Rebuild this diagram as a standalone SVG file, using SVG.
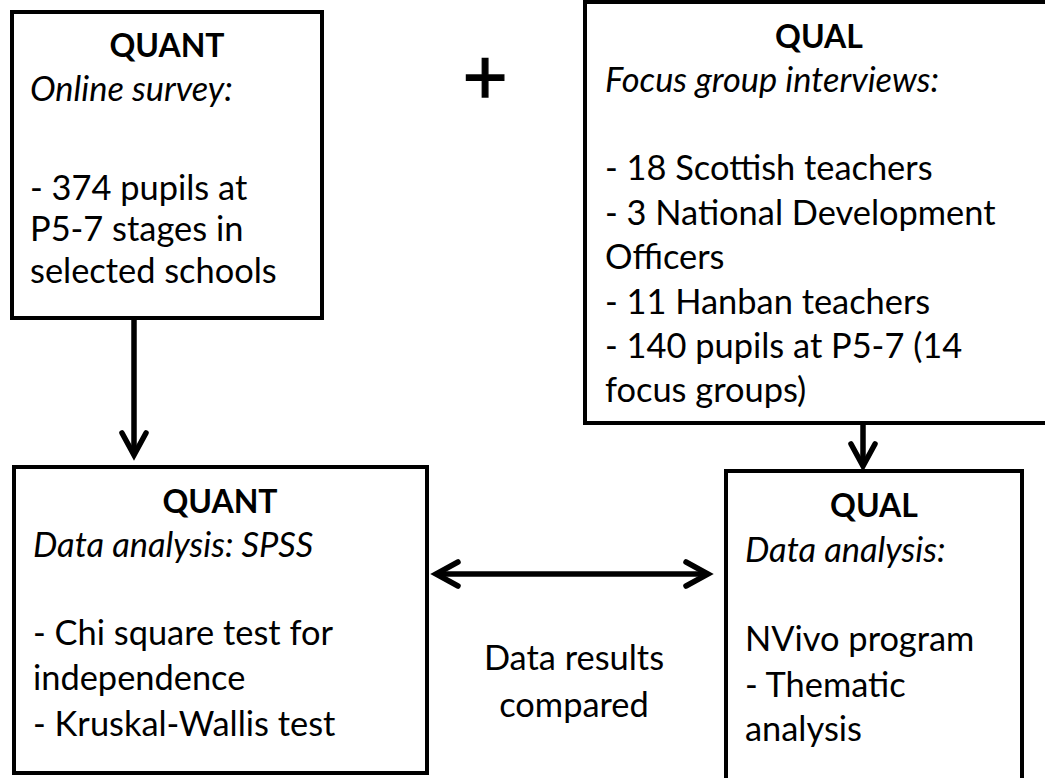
<svg xmlns="http://www.w3.org/2000/svg" width="1045" height="778" viewBox="0 0 1045 778">
<style>
.box{fill:#fff;stroke:#000;stroke-width:4}
.t{font-family:Lato,"Liberation Sans",sans-serif;font-size:34.4px;fill:#000}
.h{font-weight:bold;text-anchor:middle;font-size:32px}
.i{font-style:italic}
.c{text-anchor:middle}
.con{stroke:#000;stroke-width:5.5;fill:none}
</style>
<defs>
<marker id="ah" markerUnits="userSpaceOnUse" markerWidth="40" markerHeight="40" viewBox="-30 -20 40 40" refX="0" refY="0" orient="auto-start-reverse">
<path d="M-22,-12 L0,0 L-22,12" fill="none" stroke="#000" stroke-width="5.5" stroke-linecap="round" stroke-linejoin="miter"/>
</marker>
</defs>
<rect width="1045" height="778" fill="#fff"/>
<g id="quant-survey">
<rect class="box" x="12" y="12" width="310" height="306"/>
<text class="t h" x="167" y="57">QUANT</text>
<text class="t i" x="30" y="101">Online survey:</text>
<text class="t" x="30" y="200">- 374 pupils at</text>
<text class="t" x="30" y="241">P5-7 stages in</text>
<text class="t" x="30" y="283">selected schools</text>
</g>
<g id="plus">
<text class="t c" x="485" y="104" style="font-size:78px" stroke="#000" stroke-width="1.3">+</text>
</g>
<g id="qual-interviews">
<rect class="box" x="585" y="2" width="470" height="421"/>
<text class="t h" x="819" y="48">QUAL</text>
<text class="t i" x="605" y="92">Focus group interviews:</text>
<text class="t" x="605" y="180">- 18 Scottish teachers</text>
<text class="t" x="605" y="225">- 3 National Development</text>
<text class="t" x="605" y="269">Officers</text>
<text class="t" x="605" y="314">- 11 Hanban teachers</text>
<text class="t" x="605" y="358">- 140 pupils at P5-7 (14</text>
<text class="t" x="605" y="402">focus groups)</text>
</g>
<g id="quant-analysis">
<rect class="box" x="14" y="467" width="413" height="306"/>
<text class="t h" x="220" y="513">QUANT</text>
<text class="t i" x="33" y="557">Data analysis: SPSS</text>
<text class="t" x="33" y="645">- Chi square test for</text>
<text class="t" x="33" y="690">independence</text>
<text class="t" x="33" y="736">- Kruskal-Wallis test</text>
</g>
<g id="qual-analysis">
<rect class="box" x="726" y="471" width="296" height="330"/>
<text class="t h" x="874" y="517">QUAL</text>
<text class="t i" x="745" y="562">Data analysis:</text>
<text class="t" x="745" y="651">NVivo program</text>
<text class="t" x="745" y="697">- Thematic</text>
<text class="t" x="745" y="741">analysis</text>
</g>
<g id="compare-label">
<text class="t c" x="574" y="670">Data results</text>
<text class="t c" x="574" y="717">compared</text>
</g>
<g id="connectors">
<line class="con" x1="134" y1="318" x2="134" y2="455" marker-end="url(#ah)"/>
<line class="con" x1="863" y1="423" x2="863" y2="466" marker-end="url(#ah)"/>
<line class="con" x1="436" y1="574" x2="708" y2="574" marker-start="url(#ah)" marker-end="url(#ah)"/>
</g>
</svg>
